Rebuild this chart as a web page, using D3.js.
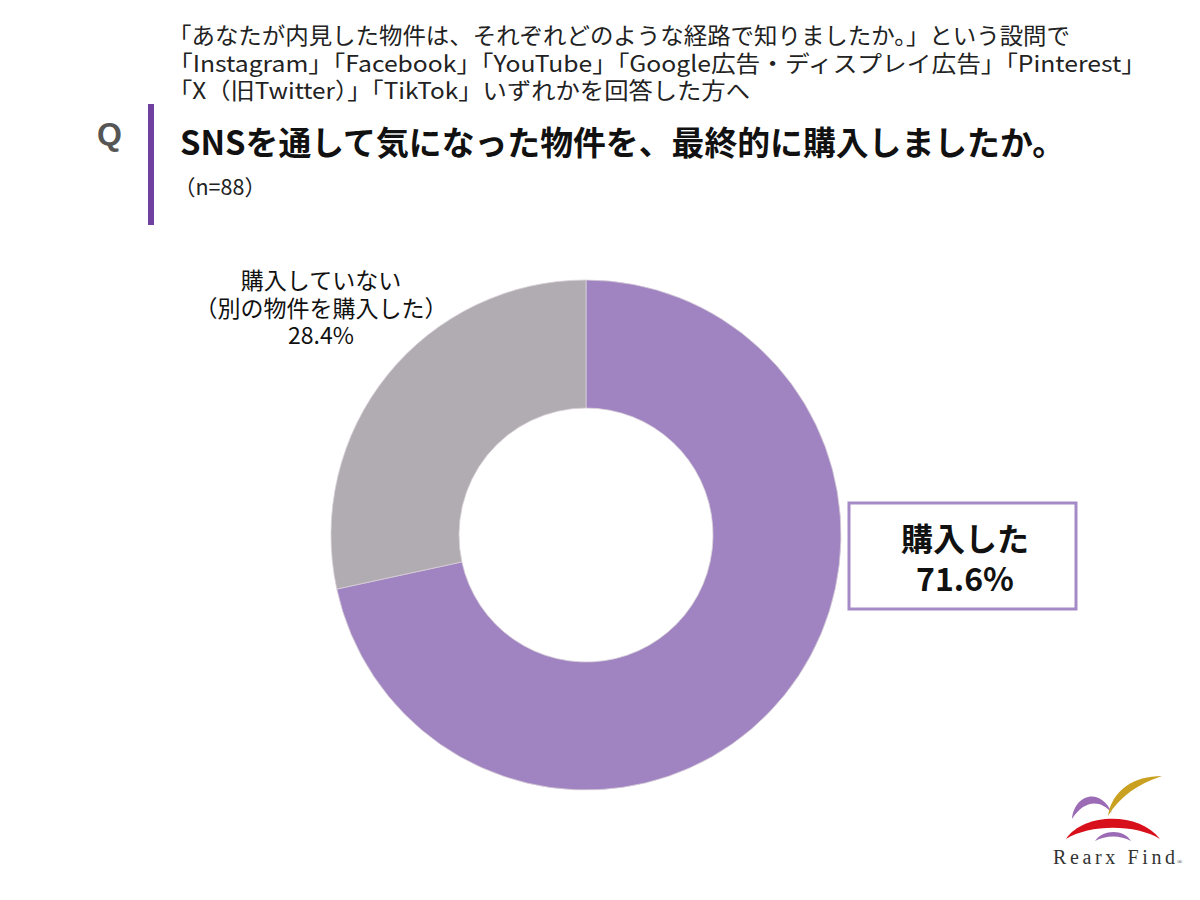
<!DOCTYPE html>
<html><head><meta charset="utf-8">
<script src="https://cdn.jsdelivr.net/npm/d3@7"></script>
<style>
html,body{margin:0;padding:0;background:#fff;}
svg{display:block;font-family:"Noto Sans CJK JP","Noto Sans",sans-serif;}
</style></head>
<body>
<svg id="chart" width="1200" height="900"></svg>
<script>
const categories = ["購入した", "購入していない（別の物件を購入した）"];
const values = [71.6, 28.4];
const colors = ["#A084C1", "#B0ACB1"];
const headerLines = [
  "「あなたが内見した物件は、それぞれどのような経路で知りましたか。」という設問で",
  "「Instagram」「Facebook」「YouTube」「Google広告・ディスプレイ広告」「Pinterest」",
  "「X（旧Twitter）」「TikTok」いずれかを回答した方へ"
];
const title = "SNSを通して気になった物件を、最終的に購入しましたか。";
const nLabel = "（n=88）";

const svg = d3.select("#chart");

// header
svg.selectAll("text.hdr").data(headerLines).enter().append("text")
  .attr("class","hdr")
  .attr("x",168).attr("y",(d,i)=>44+i*27.5)
  .attr("font-size",22.5).attr("fill","#222")
  .attr("textLength",(d,i)=>[902,978,582][i]).attr("lengthAdjust","spacingAndGlyphs")
  .text(d=>d);

svg.append("text").attr("x",97).attr("y",145).attr("font-size",32).attr("font-weight","bold")
  .attr("fill","#555").attr("font-family","Liberation Sans, Arial, sans-serif").text("Q");
svg.append("rect").attr("x",148).attr("y",104).attr("width",6).attr("height",121).attr("fill","#7040A0");
svg.append("text").attr("x",180).attr("y",155).attr("font-size",33).attr("font-weight","bold")
  .attr("fill","#111").attr("textLength",885).attr("lengthAdjust","spacingAndGlyphs").text(title);
svg.append("text").attr("x",174).attr("y",195).attr("font-size",21.5).attr("fill","#222").text(nLabel);

// donut
const cx = 586, cy = 535, R = 255, r = 127;
const pie = d3.pie().sort(null).value(d=>d)(values);
const arc = d3.arc().innerRadius(r).outerRadius(R);
const g = svg.append("g").attr("transform",`translate(${cx},${cy})`);
g.selectAll("path").data(pie).enter().append("path")
  .attr("d",arc).attr("fill",(d,i)=>colors[i])
  .attr("stroke","#d8cfd8").attr("stroke-width",0.8);

// gray label
const grayLines = ["購入していない", "（別の物件を購入した）", values[1].toFixed(1)+"%"];
svg.selectAll("text.gl").data(grayLines).enter().append("text")
  .attr("class","gl").attr("x",321).attr("y",(d,i)=>289+i*27.5)
  .attr("text-anchor","middle").attr("font-size",23).attr("fill","#111").text(d=>d);

// purple label box
svg.append("rect").attr("x",849).attr("y",503).attr("width",227).attr("height",106)
  .attr("fill","#fff").attr("stroke","#A58AC8").attr("stroke-width",3);
const boxLines = [categories[0], values[0].toFixed(1)+"%"];
svg.selectAll("text.bl").data(boxLines).enter().append("text")
  .attr("class","bl").attr("x",965).attr("y",(d,i)=>551+i*40)
  .attr("text-anchor","middle").attr("font-size",32).attr("font-weight","bold").attr("fill","#111").text(d=>d);

// logo
const lg = svg.append("g");
lg.append("path").attr("d","M1072,819 C1074,795 1100,786 1112,813 C1100,799 1084,800 1072,819 Z").attr("fill","#9B6BB5");
lg.append("path").attr("d","M1108,816 C1112,790 1134,776 1162,776 C1138,784 1120,796 1108,816 Z").attr("fill","#C9A020");
lg.append("path").attr("d","M1066,839 C1084,812 1140,812 1160,839 C1136,824 1090,824 1066,839 Z").attr("fill","#D8101C");
lg.append("path").attr("d","M1095,841 C1103,829 1124,829 1131,841 C1120,835 1106,835 1095,841 Z").attr("fill","#9B6BB5");
lg.append("text").attr("x",1053).attr("y",864).attr("font-size",20)
  .attr("font-family","Liberation Serif, serif").attr("fill","#333")
  .attr("textLength",122).attr("lengthAdjust","spacing").text("Rearx Find");
lg.append("text").attr("x",1177).attr("y",864).attr("font-size",7)
  .attr("font-family","Liberation Serif, serif").attr("fill","#333").text("®");
</script>
</body></html>
